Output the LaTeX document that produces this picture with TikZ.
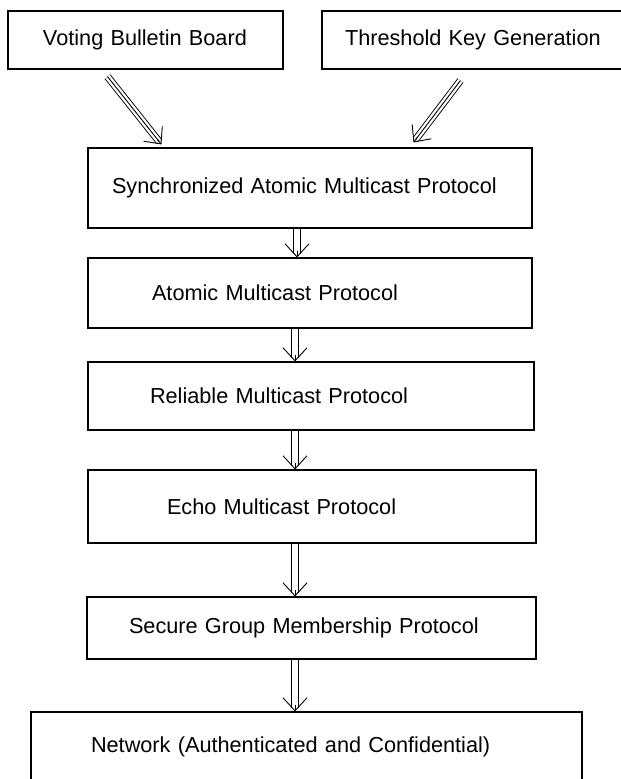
\documentclass[tikz,border=0pt]{standalone}
\usepackage{fontspec}
\setmainfont{Liberation Sans}
\usetikzlibrary{arrows.meta,calc}
\newcommand{\myarrow}[3]{%
  \draw[#1] (#2) -- (#3);
  \draw[headtip] ($(#3)!6pt!(#2)$) -- (#3);
}
\begin{document}
\begin{tikzpicture}[x=1pt,y=-1pt,
  box/.style={draw, line width=1.1pt, inner xsep=0pt, inner ysep=0pt, align=left,
    font=\fontsize{21.7}{26}\selectfont},
  vshaft/.style={double, double distance=6pt, line width=0.9pt, shorten >=3pt},
  dshaft/.style={double, double distance=5.5pt, line width=0.9pt, shorten >=4pt,
    postaction={draw, line width=0.9pt, double=none}},
  headtip/.style={line width=0.9pt, -{Straight Barb[length=13pt,width=24pt]}}]
\useasboundingbox (0,0) rectangle (621,779);
\fill[white] (0,0) rectangle (621,779);
\clip (0,0) rectangle (621,779);

\node[box, text width=275pt, minimum height=58pt] (vbb) at (145.5,40)
  {\hspace*{35pt}Voting Bulletin Board};
\node[box, text width=304pt, minimum height=58pt] (tkg) at (474,40)
  {\hspace*{23pt}Threshold Key Generation};
\node[box, text width=444pt, minimum height=80pt] (samp) at (310,188)
  {\hspace*{24pt}Synchronized Atomic Multicast Protocol};
\node[box, text width=444pt, minimum height=70pt] (amp) at (310,293)
  {\hspace*{64pt}Atomic Multicast Protocol};
\node[box, text width=446pt, minimum height=68pt] (rmp) at (311,396)
  {\hspace*{62pt}Reliable Multicast Protocol};
\node[box, text width=448pt, minimum height=73pt] (emp) at (312,506.5)
  {\hspace*{79pt}Echo Multicast Protocol};
\node[box, text width=449pt, minimum height=62pt] (sgmp) at (311.5,628)
  {\hspace*{42pt}Secure Group Membership Protocol};
\node[box, text width=551pt, minimum height=69pt] (net) at (306.5,746.5)
  {\hspace*{60pt}Network (Authenticated and Confidential)};

\coordinate (ax) at (295,0);
\coordinate (ax1) at (297,0);
\coordinate (a1s) at (samp.south -| ax1);
\coordinate (a1e) at (amp.north -| ax1);
\coordinate (a2s) at (amp.south -| ax);
\coordinate (a2e) at (rmp.north -| ax);
\coordinate (a3s) at (rmp.south -| ax);
\coordinate (a3e) at (emp.north -| ax);
\coordinate (a4s) at (emp.south -| ax);
\coordinate (a4e) at (sgmp.north -| ax);
\coordinate (a5s) at (sgmp.south -| ax);
\coordinate (a5e) at (net.north -| ax);
\coordinate (d1s) at ($(vbb.south west)+(100,7)$);
\coordinate (d1e) at ($(samp.north west)+(74,-3)$);
\coordinate (d2s) at ($(tkg.south west)+(139,11)$);
\coordinate (d2e) at ($(samp.north west)+(326,-5)$);

\myarrow{vshaft}{a1s}{a1e}
\myarrow{vshaft}{a2s}{a2e}
\myarrow{vshaft}{a3s}{a3e}
\myarrow{vshaft}{a4s}{a4e}
\myarrow{vshaft}{a5s}{a5e}
\myarrow{dshaft}{d1s}{d1e}
\myarrow{dshaft}{d2s}{d2e}
\end{tikzpicture}
\end{document}
